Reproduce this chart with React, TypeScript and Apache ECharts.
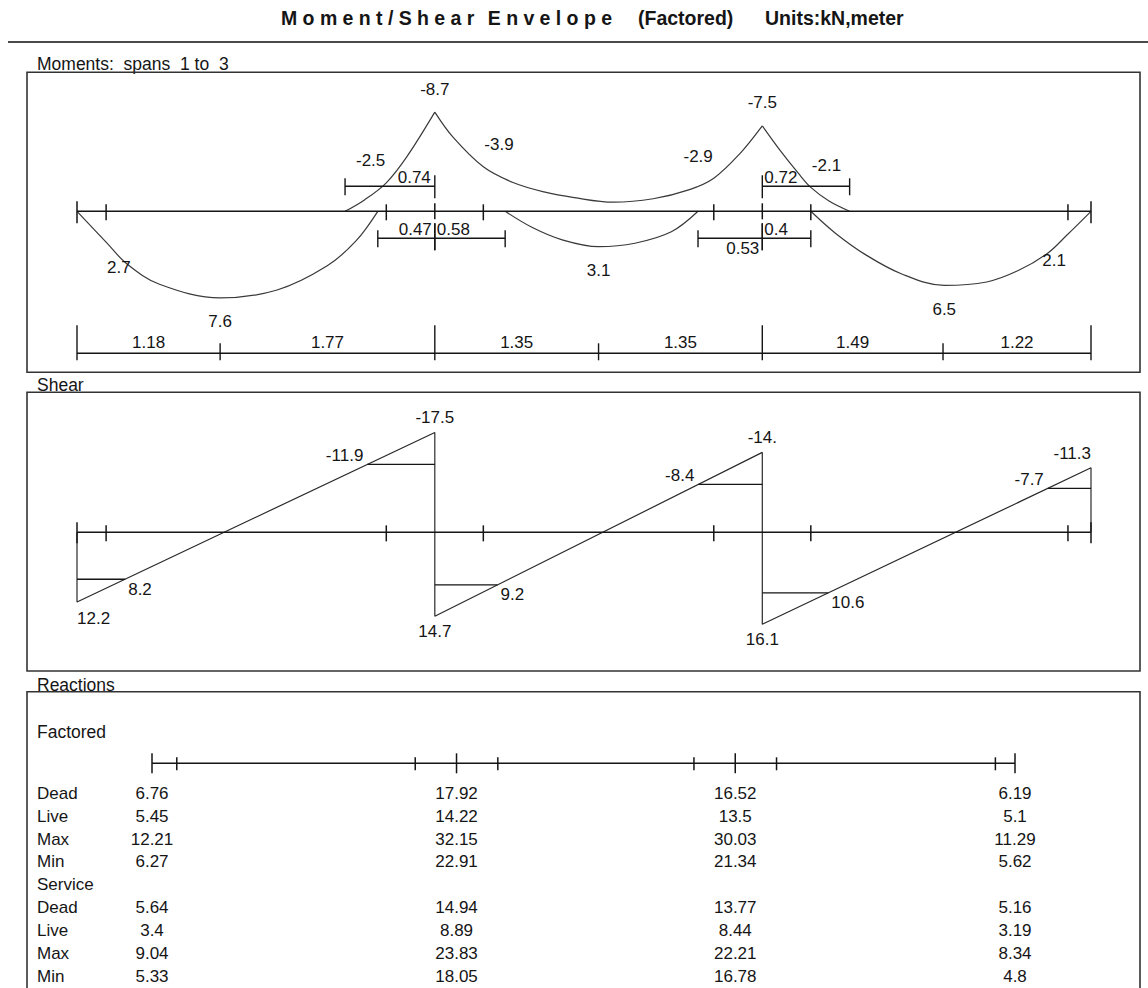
import React, { useEffect, useRef } from "react";
import * as echarts from "echarts";

const FONT = "'Liberation Sans', Arial, Helvetica, sans-serif";
const INK = "#151515";
const CURVE = "#3a3a3a";
const LABEL_SIZE = 17;
const TITLE_SIZE = 19.5;

// ---------- beam geometry (m) ----------
const supports = [0, 2.95, 5.65, 8.36];
const spanSegments = [1.18, 1.77, 1.35, 1.35, 1.49, 1.22];
const beamTicks = [0.24, 2.55, 3.35, 5.25, 6.05, 8.17];

// ---------- moment envelope (m, kN·m); negative = hogging ----------
const momentSag1 = [[0, 0], [0.24, 2.7], [0.41, 4.6], [0.68, 6.4], [1.18, 7.6], [1.65, 6.9], [2.06, 4.8], [2.3, 2.6], [2.48, 0]];
const momentHog1 = [[2.21, 0], [2.37, -1.0], [2.55, -2.5], [2.72, -4.8], [2.95, -8.7]];
const momentHog2 = [[2.95, -8.7], [3.1, -6.5], [3.35, -3.9], [3.6, -2.5], [3.85, -1.7], [4.1, -1.2], [4.42, -0.8], [4.75, -1.1], [5.05, -1.9], [5.25, -2.9], [5.46, -5.0], [5.65, -7.5]];
const momentSag2 = [[3.53, 0], [3.75, 1.4], [4.0, 2.5], [4.3, 3.1], [4.6, 2.8], [4.9, 1.8], [5.12, 0]];
const momentHog3 = [[5.65, -7.5], [5.8, -5.3], [5.95, -3.3], [6.05, -2.1], [6.2, -0.9], [6.37, 0]];
const momentSag3 = [[6.05, 0], [6.25, 1.9], [6.5, 3.8], [6.8, 5.5], [7.15, 6.5], [7.5, 6.2], [7.76, 5.2], [8.0, 3.7], [8.16, 2.1], [8.36, 0]];

const momentSupportPeaks = [[2.95, -8.7], [5.65, -7.5]];
const momentFaceNeg = [[2.55, -2.5], [3.35, -3.9], [5.25, -2.9], [6.05, -2.1]];
const momentFacePos = [[0.24, 2.7], [8.17, 2.1]];
const momentMaxPos = [[1.18, 7.6], [4.3, 3.1], [7.15, 6.5]];

// distances from support to inflection points: [support index, signed length]
const hogLengths = [[1, -0.74], [2, 0.72]];
const sagLengths = [[1, -0.47], [1, 0.58], [2, -0.53], [2, 0.4]];

// ---------- shear envelope (kN); negative drawn upward ----------
const shearStart = [12.2, 14.7, 16.1];
const shearEnd = [-17.5, -14.0, -11.3];
const shearFaceStart = [8.2, 9.2, 10.6];
const shearFaceEnd = [-11.9, -8.4, -7.7];
const shearStartLabels = ["12.2", "14.7", "16.1"];
const shearEndLabels = ["-17.5", "-14.", "-11.3"];

// ---------- reactions ----------
const reactionRows = ["Dead", "Live", "Max", "Min", "Service", "Dead", "Live", "Max", "Min"];
const factoredDead = [6.76, 17.92, 16.52, 6.19];
const factoredLive = [5.45, 14.22, 13.5, 5.1];
const factoredMax = [12.21, 32.15, 30.03, 11.29];
const factoredMin = [6.27, 22.91, 21.34, 5.62];
const serviceDead = [5.64, 14.94, 13.77, 5.16];
const serviceLive = [3.4, 8.89, 8.44, 3.19];
const serviceMax = [9.04, 23.83, 22.21, 8.34];
const serviceMin = [5.33, 18.05, 16.78, 4.8];
const reactionValues = [factoredDead, factoredLive, factoredMax, factoredMin, null, serviceDead, serviceLive, serviceMax, serviceMin];

const titleSpaced = "Moment/Shear Envelope";
const titleFactored = "(Factored)";
const titleUnits = "Units:kN,meter";

const L = supports[supports.length - 1];

function seg(x1: number, y1: number, x2: number, y2: number, w = 1.4, color = INK) {
  return { type: "line", silent: true, shape: { x1, y1, x2, y2 }, style: { stroke: color, lineWidth: w } };
}
function txt(t: string, x: number, y: number, align = "center", size = LABEL_SIZE) {
  return {
    type: "text", silent: true, x, y,
    style: { text: t, fill: INK, fontSize: size, fontFamily: FONT, align, verticalAlign: "middle" },
  };
}
const fmtLen = (d: number) => String(Math.abs(d));

function nearestSupport(x: number) {
  let best = supports[0];
  supports.forEach((s) => { if (Math.abs(s - x) < Math.abs(best - x)) best = s; });
  return best;
}

function momentAnnotations(params: any, api: any) {
  const P = (x: number, v: number) => api.coord([x, v]);
  const X = (x: number) => P(x, 0)[0];
  const y0 = P(0, 0)[1];
  const g: any[] = [];
  // beam
  g.push(seg(X(0), y0, X(L), y0, 1.5));
  [0, L].forEach((x) => g.push(seg(X(x), y0 - 10, X(x), y0 + 12, 1.5)));
  supports.slice(1, -1).forEach((x) => g.push(seg(X(x), y0 - 8, X(x), y0 + 8, 1.5)));
  beamTicks.forEach((x) => g.push(seg(X(x), y0 - 7, X(x), y0 + 9, 1.5)));
  // hogging lengths (above beam)
  const yU = y0 - 25;
  hogLengths.forEach(([si, d]) => {
    const s = supports[si];
    const xs = X(s), xe = X(s + d);
    g.push(seg(xs, yU, xe, yU));
    g.push(seg(xs, yU - 11, xs, yU + 12));
    g.push(seg(xe, yU - 8, xe, yU + 9));
    g.push(txt(fmtLen(d), d < 0 ? xs - 4 : xs + 2, yU - 9, d < 0 ? "right" : "left"));
  });
  // sagging lengths (below beam)
  const yL = y0 + 27;
  const belowLabel = [false, false, true, false];
  sagLengths.forEach(([si, d], k) => {
    const s = supports[si];
    const xs = X(s), xe = X(s + d);
    g.push(seg(xs, yL, xe, yL));
    g.push(seg(xs, yL - 15, xs, yL + 12));
    g.push(seg(xe, yL - 8, xe, yL + 9));
    g.push(txt(fmtLen(d), d < 0 ? xs - 3 : xs + 2, belowLabel[k] ? yL + 10 : yL - 9, d < 0 ? "right" : "left"));
  });
  // span dimension line
  const yB = y0 + 142;
  g.push(seg(X(0), yB, X(L), yB));
  supports.forEach((x) => g.push(seg(X(x), yB - 28, X(x), yB + 7)));
  let acc = 0;
  spanSegments.forEach((len, k) => {
    const a = acc, b = acc + len;
    acc = b;
    if (k % 2 === 0) g.push(seg(X(b), yB - 10, X(b), yB + 7));
    g.push(txt(len.toFixed(2), (X(a) + X(b)) / 2, yB - 11));
  });
  // value labels
  momentSupportPeaks.forEach(([x, v]) => g.push(txt(String(v), X(x), P(x, v)[1] - 23)));
  momentFaceNeg.forEach(([x, v]) => {
    const left = x < nearestSupport(x);
    g.push(txt(String(v), left ? X(x) - 1 : X(x) + 1, P(x, v)[1] - 22, left ? "right" : "left"));
  });
  momentFacePos.forEach(([x, v]) => {
    const left = x < nearestSupport(x);
    g.push(txt(String(v), left ? X(x) - 2 : X(x) + 1, P(x, v)[1] + 25, left ? "right" : "left"));
  });
  momentMaxPos.forEach(([x, v]) => g.push(txt(String(v), X(x), P(x, v)[1] + 24)));
  return { type: "group", children: g };
}

function shearAnnotations(params: any, api: any) {
  const P = (x: number, v: number) => api.coord([x, v]);
  const X = (x: number) => P(x, 0)[0];
  const y0 = P(0, 0)[1];
  const g: any[] = [];
  g.push(seg(X(0), y0, X(L), y0, 1.5));
  [0, L].forEach((x) => g.push(seg(X(x), y0 - 10, X(x), y0 + 11, 1.5)));
  beamTicks.forEach((x) => g.push(seg(X(x), y0 - 7, X(x), y0 + 9, 1.5)));
  for (let k = 0; k < 3; k++) {
    const xa = supports[k], xb = supports[k + 1];
    const Va = shearStart[k], Vb = shearEnd[k];
    const cross = (V: number) => xa + ((Va - V) / (Va - Vb)) * (xb - xa);
    const Vs = shearFaceStart[k], Ve = shearFaceEnd[k];
    const ps = P(xa, Vs), pc = P(cross(Vs), Vs);
    g.push(seg(ps[0], ps[1], pc[0], pc[1]));
    g.push(txt(String(Vs), pc[0] + 3, pc[1] + 10, "left"));
    const pe = P(xb, Ve), pd = P(cross(Ve), Ve);
    g.push(seg(pd[0], pd[1], pe[0], pe[1]));
    g.push(txt(String(Ve), pd[0] - 4, pd[1] - 9, "right"));
    const pa = P(xa, Va);
    if (k === 0) g.push(txt(shearStartLabels[k], pa[0], pa[1] + 16, "left"));
    else g.push(txt(shearStartLabels[k], pa[0], pa[1] + 15));
    const pb = P(xb, Vb);
    if (k === 2) g.push(txt(shearEndLabels[k], pb[0], pb[1] - 14, "right"));
    else g.push(txt(shearEndLabels[k], pb[0], pb[1] - 15));
  }
  return { type: "group", children: g };
}

function reactionBeam(params: any, api: any) {
  const P = (x: number, v: number) => api.coord([x, v]);
  const X = (x: number) => P(x, 0)[0];
  const y0 = P(0, 0)[1];
  const g: any[] = [];
  g.push(seg(X(0), y0, X(L), y0, 1.5));
  supports.forEach((x) => g.push(seg(X(x), y0 - 10, X(x), y0 + 10, 1.5)));
  beamTicks.forEach((x) => g.push(seg(X(x), y0 - 6, X(x), y0 + 7, 1.5)));
  return { type: "group", children: g };
}

const tableItems: number[][] = [];
const tableTexts: string[] = [];
reactionValues.forEach((row, r) => {
  if (!row) return;
  row.forEach((v, i) => {
    tableItems.push([supports[i], r]);
    tableTexts.push(String(v));
  });
});

function measure(t: string, font: string) {
  const c = document.createElement("canvas").getContext("2d")!;
  c.font = font;
  return c.measureText(t).width;
}

function titleGraphics() {
  const font = `bold ${TITLE_SIZE}px ${FONT}`;
  const words = titleSpaced.split(" ");
  const glyphW = words.join("").split("").reduce((s, ch) => s + measure(ch, font), 0);
  const innerGaps = words.reduce((s, w) => s + w.length - 1, 0);
  const wordGapUnits = 2.5;
  const startX = 281, endX = 612;
  const gap = (endX - startX - glyphW) / (innerGaps + wordGapUnits * (words.length - 1));
  const els: any[] = [];
  let x = startX;
  words.forEach((w) => {
    w.split("").forEach((ch) => {
      els.push({ type: "text", x, y: 18, style: { text: ch, fill: INK, fontSize: TITLE_SIZE, fontWeight: "bold", fontFamily: FONT, align: "left", verticalAlign: "middle" } });
      x += measure(ch, font) + gap;
    });
    x += gap * (wordGapUnits - 1);
  });
  els.push({ type: "text", x: 638, y: 18, style: { text: titleFactored, fill: INK, fontSize: TITLE_SIZE, fontWeight: "bold", fontFamily: FONT, align: "left", verticalAlign: "middle" } });
  els.push({ type: "text", x: 765, y: 18, style: { text: titleUnits, fill: INK, fontSize: TITLE_SIZE, fontWeight: "bold", fontFamily: FONT, align: "left", verticalAlign: "middle" } });
  return els;
}

function panelText(t: string, y: number) {
  return { type: "text", x: 37, y, style: { text: t, fill: INK, fontSize: 17.5, fontFamily: FONT, align: "left", verticalAlign: "middle" } };
}
function box(y: number, h: number) {
  return { type: "rect", shape: { x: 27, y, width: 1113, height: h }, style: { fill: "none", stroke: "#333", lineWidth: 1.6 } };
}

function buildOption() {
  const curve = (data: number[][]) => ({
    type: "line", xAxisIndex: 0, yAxisIndex: 0, data, smooth: 0.35, symbol: "none", showSymbol: false,
    lineStyle: { color: CURVE, width: 1.2 }, silent: true, z: 3,
  });
  const shearPath: number[][] = [[0, 0]];
  for (let k = 0; k < 3; k++) {
    shearPath.push([supports[k], shearStart[k]]);
    shearPath.push([supports[k + 1], shearEnd[k]]);
  }
  shearPath.push([L, 0]);

  return {
    animation: false,
    backgroundColor: "#ffffff",
    grid: [
      { left: 77, width: 1014, top: 74.5, height: 296.4 },
      { left: 77, width: 1014, top: 395.3, height: 274.1 },
      { left: 152, width: 863, top: 753.3, height: 20 },
      { left: 152, width: 863, top: 781.8, height: 207 },
    ],
    xAxis: [0, 1, 2, 3].map((i) => ({ type: "value", gridIndex: i, min: 0, max: L, show: false })),
    yAxis: [
      { gridIndex: 0, type: "value", min: -12, max: 14, inverse: true, show: false },
      { gridIndex: 1, type: "value", min: -24, max: 24, inverse: true, show: false },
      { gridIndex: 2, type: "value", min: -1, max: 1, show: false },
      {
        gridIndex: 3, type: "category", inverse: true,
        data: reactionRows.map((r, i) => `${i}|${r}`),
        axisLine: { show: false }, axisTick: { show: false }, splitLine: { show: false },
        axisLabel: {
          interval: 0, align: "left", margin: 115, fontSize: 17, fontFamily: FONT, color: INK,
          formatter: (v: string) => v.split("|")[1],
        },
      },
    ],
    graphic: [
      ...titleGraphics(),
      { type: "line", shape: { x1: 8, y1: 42, x2: 1148, y2: 42 }, style: { stroke: "#4a4a4a", lineWidth: 2 } },
      panelText("Moments:\u00A0\u00A0spans\u00A0\u00A01 to\u00A0\u00A03", 64),
      box(72.3, 300),
      panelText("Shear", 385),
      box(392.3, 278.7),
      panelText("Reactions", 685),
      box(691.7, 330),
      panelText("Factored", 732),
    ],
    series: [
      curve(momentSag1), curve(momentHog1), curve(momentHog2),
      curve(momentSag2), curve(momentHog3), curve(momentSag3),
      { type: "custom", xAxisIndex: 0, yAxisIndex: 0, data: [[0, 0]], renderItem: momentAnnotations, silent: true, z: 4 },
      {
        type: "line", xAxisIndex: 1, yAxisIndex: 1, data: shearPath, symbol: "none", showSymbol: false,
        lineStyle: { color: "#2a2a2a", width: 1.2 }, silent: true, z: 3,
      },
      { type: "custom", xAxisIndex: 1, yAxisIndex: 1, data: [[0, 0]], renderItem: shearAnnotations, silent: true, z: 4 },
      { type: "custom", xAxisIndex: 2, yAxisIndex: 2, data: [[0, 0]], renderItem: reactionBeam, silent: true, z: 4 },
      {
        type: "custom", xAxisIndex: 3, yAxisIndex: 3, data: tableItems, silent: true, z: 4,
        renderItem: (params: any, api: any) => {
          const p = api.coord([api.value(0), api.value(1)]);
          return txt(tableTexts[params.dataIndex], p[0], p[1], "center", 17);
        },
      },
    ],
  };
}

export default function App() {
  const ref = useRef<HTMLDivElement>(null);
  useEffect(() => {
    const chart = echarts.init(ref.current!, null, { renderer: "svg" });
    chart.setOption(buildOption() as any);
    return () => chart.dispose();
  }, []);
  return (
    <div
      ref={ref}
      style={{ position: "fixed", left: 0, top: 0, width: 1148, height: 988, background: "#fff" }}
    />
  );
}
